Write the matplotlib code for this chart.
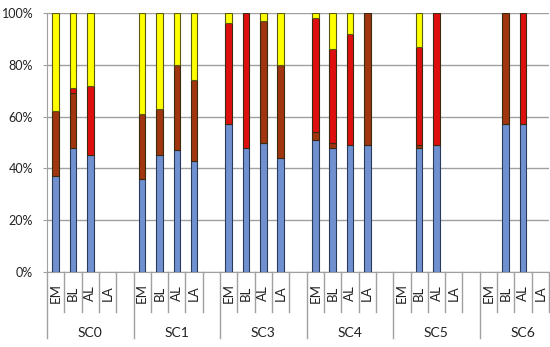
import numpy as np
import matplotlib
matplotlib.use("Agg")
import matplotlib.pyplot as plt
from matplotlib.ticker import PercentFormatter
import matplotlib.transforms as mtransforms

groups = ["SC0", "SC1", "SC3", "SC4", "SC5", "SC6"]
cats = ["EM", "BL", "AL", "LA"]

# percent shares, one value per (group, category), bottom to top
blue = [37, 48, 45, 0, 36, 45, 47, 43, 57, 48, 50, 44, 51, 48, 49, 49, 0, 48, 49, 0, 0, 57, 57, 0]
brown = [25, 21, 0, 0, 25, 18, 33, 31, 0, 0, 47, 36, 3, 2, 0, 51, 0, 1, 0, 0, 0, 43, 0, 0]
red = [0, 2, 27, 0, 0, 0, 0, 0, 39, 52, 0, 0, 44, 36, 43, 0, 0, 38, 51, 0, 0, 0, 43, 0]
yellow = [38, 29, 28, 0, 39, 37, 20, 26, 4, 0, 3, 20, 2, 14, 8, 0, 0, 13, 0, 0, 0, 0, 0, 0]

series = [blue, brown, red, yellow]
colors = ["#7090D0", "#A0350F", "#E00F0F", "#FFFF00"]
edges = ["#2a3a5a", "#3a2a10", "#3a2a10", "#5a5a10"]

plt.rcParams['font.family'] = ['Lato', 'DejaVu Sans']

slots = len(cats) + 1
x = np.array([g * slots + k + 0.5 for g in range(len(groups)) for k in range(len(cats))])

fig = plt.figure(figsize=(5.5, 3.47), dpi=100)
ax = fig.add_axes([47 / 550, 1 - 272 / 347, 502 / 550, 259 / 347])

bottom = np.zeros(len(x))
for vals, col, ec in zip(series, colors, edges):
    vals = np.array(vals, dtype=float)
    keep = vals > 0
    ax.bar(x[keep], vals[keep], bottom=bottom[keep], width=0.38, color=col,
           edgecolor=ec, linewidth=0.8, zorder=3)
    bottom += vals

ax.set_xlim(0, len(groups) * slots - 1)
ax.set_ylim(0, 100)
ax.set_yticks(np.arange(0, 101, 20))
ax.yaxis.set_major_formatter(PercentFormatter(decimals=0))
ax.tick_params(axis='y', labelsize=9, length=3, color="#a0a0a0", pad=7,
               labelcolor="#222222")
ax.set_xticks([])
ax.grid(axis='y', color="#a0a0a0", linewidth=1, zorder=0)
for s in ["top", "right"]:
    ax.spines[s].set_visible(False)
ax.spines["left"].set_color("#a0a0a0")
ax.spines["bottom"].set_color("#a0a0a0")

trans = mtransforms.blended_transform_factory(ax.transData, ax.transAxes)
n_slots = len(groups) * slots
for i in range(n_slots):
    depth = -0.255 if i % slots == 0 else -0.155
    ax.plot([i, i], [0, depth], transform=trans, color="#a0a0a0", linewidth=1,
            clip_on=False)

for xi, j in zip(x, range(len(x))):
    ax.text(xi, -0.082, cats[j % len(cats)], transform=trans, rotation=90,
            ha="center", va="center", fontsize=9.5, color="#222222")

for g, name in enumerate(groups):
    ax.text(g * slots + slots / 2, -0.236, name, transform=trans, ha="center",
            va="center", fontsize=10, color="#222222")

fig.savefig("out.png", dpi=100)
